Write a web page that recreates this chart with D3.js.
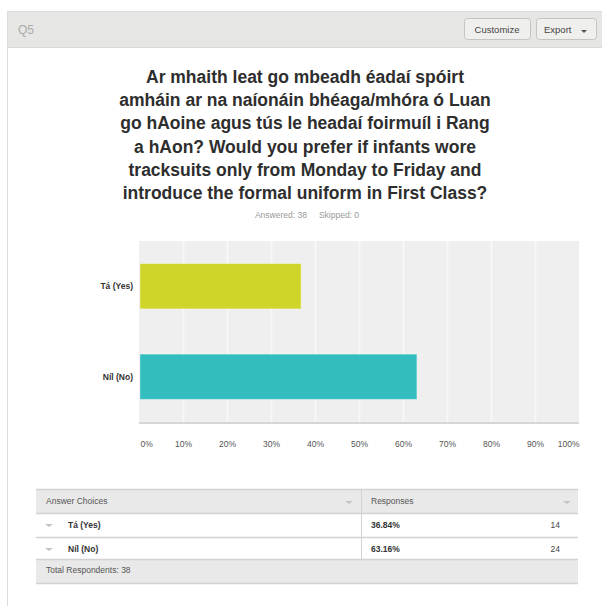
<!DOCTYPE html>
<html>
<head>
<meta charset="utf-8">
<script src="https://cdn.jsdelivr.net/npm/d3@7"></script>
<style>
  body { margin: 0; background: #fff; }
  svg { display: block; font-family: "Liberation Sans", Arial, sans-serif; }
</style>
</head>
<body>
<svg id="chart" width="602" height="606"></svg>
<script>
// data
const questionId = 'Q5'
const titleLines = [
  'Ar mhaith leat go mbeadh éadaí spóirt',
  'amháin ar na naíonáin bhéaga/mhóra ó Luan',
  'go hAoine agus tús le headaí foirmuíl i Rang',
  'a hAon? Would you prefer if infants wore',
  'tracksuits only from Monday to Friday and',
  'introduce the formal uniform in First Class?'
]
const answered = 38
const skipped = 0
const categories = ['Tá (Yes)', 'Níl (No)']
const shares = [0.3684, 0.6316]
const counts = [14, 24]
const barColors = ['#d0d52a', '#33bdbf']
const ticks = [0, 0.1, 0.2, 0.3, 0.4, 0.5, 0.6, 0.7, 0.8, 0.9, 1]

const svg = d3.select('#chart')

// panel + header
svg.append('rect')
  .attr('x', 7.5).attr('y', 11.5)
  .attr('width', 620).attr('height', 620)
  .attr('fill', '#fff').attr('stroke', '#dcdcdc')
svg.append('rect')
  .attr('x', 8).attr('y', 12)
  .attr('width', 600).attr('height', 35)
  .attr('fill', '#e6e6e4')
svg.append('line')
  .attr('x1', 8).attr('x2', 602).attr('y1', 47.5).attr('y2', 47.5)
  .attr('stroke', '#dadada')

svg.append('text')
  .attr('x', 18).attr('y', 34)
  .attr('font-size', 12).attr('fill', '#aaa')
  .text(questionId)

const buttons = [
  { label: 'Customize', x: 464, w: 66 },
  { label: 'Export', x: 536, w: 60, caret: true }
]
buttons.forEach(b => {
  const bg = svg.append('g')
  bg.append('rect')
    .attr('x', b.x + 0.5).attr('y', 18.5)
    .attr('width', b.w).attr('height', 21)
    .attr('rx', 3)
    .attr('fill', '#efefed').attr('stroke', '#c4c4c4')
  bg.append('text')
    .attr('x', b.caret ? b.x + 8 : b.x + b.w / 2)
    .attr('y', 32.5)
    .attr('text-anchor', b.caret ? 'start' : 'middle')
    .attr('font-size', 9.5).attr('fill', '#444')
    .text(b.label)
  if (b.caret) {
    bg.append('path')
      .attr('d', `M${b.x + 45},30 l6,0 l-3,3 z`)
      .attr('fill', '#555')
  }
})

// title
svg.append('g').selectAll('text')
  .data(titleLines)
  .enter()
  .append('text')
  .attr('x', 305)
  .attr('y', (d, i) => 83 + i * 23.2)
  .attr('text-anchor', 'middle')
  .attr('font-size', 17.5)
  .attr('font-weight', 'bold')
  .attr('fill', '#2e2e2e')
  .text(d => d)

const stats = svg.append('text')
  .attr('x', 307).attr('y', 218)
  .attr('text-anchor', 'middle')
  .attr('font-size', 8.5).attr('fill', '#999')
stats.append('tspan').text('Answered: ' + answered)
stats.append('tspan').attr('dx', 12).text('Skipped: ' + skipped)

// chart
const x = d3.scaleLinear().domain([0, 1]).range([139, 579])
const y = d3.scaleBand().domain(categories).range([241, 422])
  .paddingInner(0.5).paddingOuter(0.25)

svg.append('rect')
  .attr('x', x(0)).attr('y', 241)
  .attr('width', x(1) - x(0)).attr('height', 181)
  .attr('fill', '#efefef')

svg.append('g').selectAll('line')
  .data(ticks.slice(1, -1))
  .enter()
  .append('line')
  .attr('x1', d => x(d) + 0.5).attr('x2', d => x(d) + 0.5)
  .attr('y1', 241).attr('y2', 422)
  .attr('stroke', '#f8f8f8').attr('stroke-width', 1.5)

svg.append('line')
  .attr('x1', x(0)).attr('x2', x(1))
  .attr('y1', 423).attr('y2', 423)
  .attr('stroke', '#d6d6d6').attr('stroke-width', 2)

svg.append('g').selectAll('rect')
  .data(categories)
  .enter()
  .append('rect')
  .attr('x', x(0) + 1)
  .attr('y', d => y(d))
  .attr('width', (d, i) => x(shares[i]) - x(0) - 1)
  .attr('height', y.bandwidth())
  .attr('fill', (d, i) => barColors[i])
  .attr('stroke', '#fff').attr('stroke-opacity', 0.35)

svg.append('g').selectAll('text')
  .data(categories)
  .enter()
  .append('text')
  .attr('x', 133)
  .attr('y', d => y(d) + y.bandwidth() / 2 + 3)
  .attr('text-anchor', 'end')
  .attr('font-size', 8.5).attr('font-weight', 'bold')
  .attr('fill', '#333')
  .text(d => d)

const xAxis = d3.axisBottom(x)
  .tickValues(ticks)
  .tickFormat(d3.format('.0%'))
  .tickSize(0)
const axisG = svg.append('g')
  .attr('transform', 'translate(0,438)')
  .call(xAxis)
axisG.select('.domain').remove()
axisG.selectAll('text')
  .attr('font-family', '"Liberation Sans", Arial, sans-serif')
  .attr('font-size', 8.5)
  .attr('fill', '#555')
  .attr('text-anchor', (d, i) => i === 0 ? 'start' : (i === ticks.length - 1 ? 'end' : 'middle'))
  .attr('dx', (d, i) => i === 0 ? 1 : 0)

// table
const tL = 36, tR = 578, colX = 361
const headY = 489, rowH = 24
const tbl = svg.append('g')

tbl.append('rect')
  .attr('x', tL).attr('y', headY)
  .attr('width', tR - tL).attr('height', rowH)
  .attr('fill', '#e9e9e9')
tbl.append('rect')
  .attr('x', tL).attr('y', headY + rowH * 3 - 2)
  .attr('width', tR - tL).attr('height', rowH)
  .attr('fill', '#e9e9e9')

const hLines = [headY, headY + rowH, headY + rowH * 2, headY + rowH * 3 - 2, headY + rowH * 4 - 2]
tbl.selectAll('line.h')
  .data(hLines)
  .enter()
  .append('line')
  .attr('x1', tL).attr('x2', tR)
  .attr('y1', d => d + 0.5).attr('y2', d => d + 0.5)
  .attr('stroke', '#d2d2d2').attr('stroke-width', 1.5)
tbl.append('line')
  .attr('x1', colX + 0.5).attr('x2', colX + 0.5)
  .attr('y1', headY).attr('y2', headY + rowH * 3 - 2)
  .attr('stroke', '#d2d2d2')

tbl.append('text')
  .attr('x', 46).attr('y', headY + 15)
  .attr('font-size', 8.5).attr('fill', '#555')
  .text('Answer Choices')
tbl.append('text')
  .attr('x', 371).attr('y', headY + 15)
  .attr('font-size', 8.5).attr('fill', '#555')
  .text('Responses')

function caret(cx, cy) {
  tbl.append('path')
    .attr('d', `M${cx - 4},${cy} l8,0 l-4,3 z`)
    .attr('fill', '#c4c4c4')
}
caret(349, headY + 12)
caret(567, headY + 12)

categories.forEach((c, i) => {
  const ry = headY + rowH * (i + 1)
  caret(49, ry + 11)
  tbl.append('text')
    .attr('x', 68).attr('y', ry + 15)
    .attr('font-size', 8.5).attr('font-weight', 'bold').attr('fill', '#333')
    .text(c)
  tbl.append('text')
    .attr('x', 371).attr('y', ry + 15)
    .attr('font-size', 8.5).attr('font-weight', 'bold').attr('fill', '#333')
    .text(d3.format('.2%')(shares[i]))
  tbl.append('text')
    .attr('x', 560).attr('y', ry + 15)
    .attr('text-anchor', 'end')
    .attr('font-size', 8.5).attr('fill', '#444')
    .text(counts[i])
})

tbl.append('text')
  .attr('x', 46).attr('y', headY + rowH * 3 + 12)
  .attr('font-size', 8.5).attr('fill', '#555')
  .text('Total Respondents: ' + d3.sum(counts))
</script>
</body>
</html>
